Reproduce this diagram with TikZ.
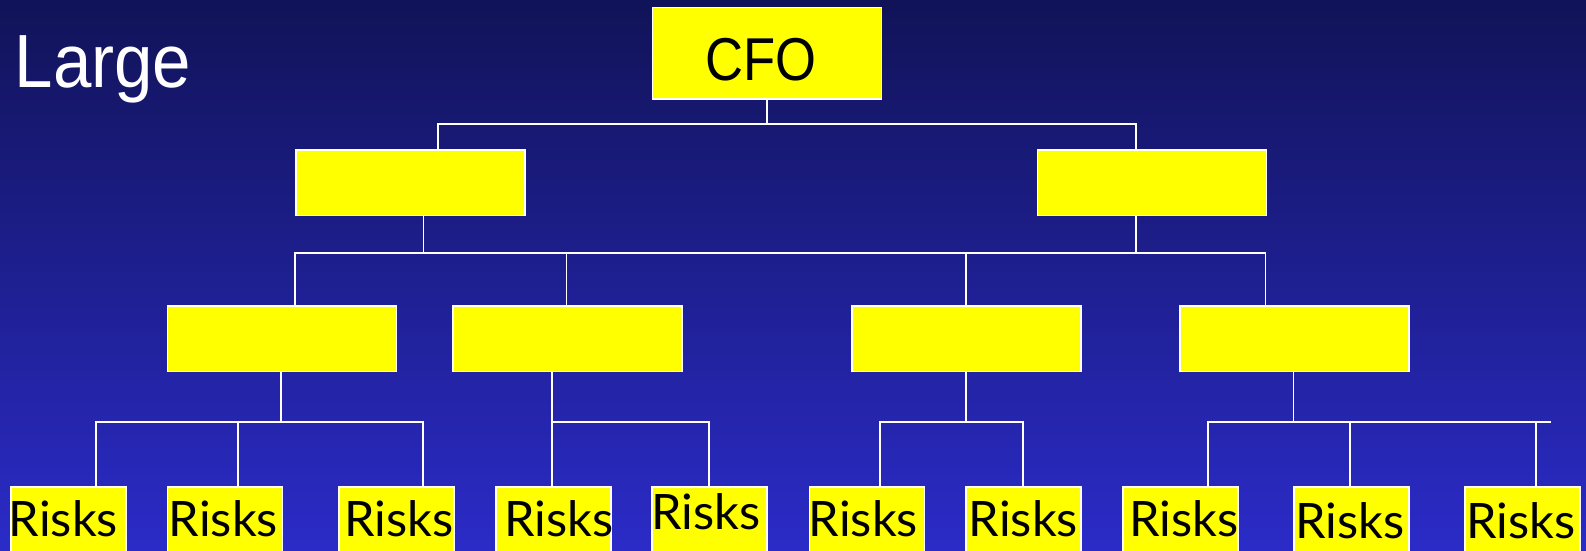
\documentclass[tikz,border=0pt]{standalone}
\usepackage{fontspec}
\usepackage{graphicx}
\usetikzlibrary{calc}
\newfontfamily\risksfont{Lato}
\newfontfamily\titlefont{Liberation Sans}
\definecolor{bgtop}{RGB}{17,19,88}
\definecolor{bgbot}{RGB}{43,43,200}
\definecolor{boxyellow}{RGB}{255,255,0}
\begin{document}
\begin{tikzpicture}[x=1pt,y=-1pt,
  ybox/.style={draw=white, line width=1.5pt, fill=boxyellow, anchor=north west, inner sep=0pt},
  mid/.style={ybox, minimum width=229pt, minimum height=65.5pt},
  rbox/.style={ybox, minimum width=115pt, minimum height=90pt},
  conn/.style={draw=white, line width=1.8pt},
  rtext/.style={anchor=base west, inner sep=0pt, font=\risksfont\fontsize{48.8}{58}\selectfont, text=black}]
\useasboundingbox (0,0) rectangle (1586,550);
\clip (0,0) rectangle (1586,550);
\shade[top color=bgtop, bottom color=bgbot] (0,0) rectangle (1586,550);

% title
\node[anchor=base west, inner sep=0pt, text=white, font=\titlefont\fontsize{75.4}{90}\selectfont] (title) at (14.4,87.3) {\scalebox{0.916}[1]{Large}};

% level 0
\node[ybox, minimum width=229pt, minimum height=91.6pt] (cfo) at (651.5,6.7) {};
\node[anchor=base west, inner sep=0pt, text=black, font=\titlefont\fontsize{60.5}{72}\selectfont] (cfot) at (705,80) {\scalebox{0.87}[1]{CFO}};

% level 1
\node[mid] (a1) at (295,149.3) {};
\node[mid] (a2) at (1036.6,149.3) {};

% level 2
\node[mid] (b1) at (166.7,305) {};
\node[mid] (b2) at (452,305) {};
\node[mid] (b3) at (851,305) {};
\node[mid] (b4) at (1179.3,305) {};

% level 3
\node[rbox] (r1) at (10,486) {};
\node[rbox] (r2) at (166.7,486) {};
\node[rbox] (r3) at (338,486) {};
\node[rbox] (r4) at (495,486) {};
\node[rbox] (r5) at (651,486) {};
\node[rbox] (r6) at (808.7,486) {};
\node[rbox] (r7) at (965,486) {};
\node[rbox] (r8) at (1122,486) {};
\node[rbox] (r9) at (1293.3,486) {};
\node[rbox] (r10) at (1464.3,486) {};

\node[rtext] (t1) at ($(r1.north west)+(-1.3,50.7)$) {Risks};
\node[rtext] (t2) at ($(r2.north west)+(2,50.7)$) {Risks};
\node[rtext] (t3) at ($(r3.north west)+(6,50.7)$) {Risks};
\node[rtext] (t4) at ($(r4.north west)+(9,50.7)$) {Risks};
\node[rtext] (t5) at ($(r5.north west)+(0,43.3)$) {Risks};
\node[rtext] (t6) at ($(r6.north west)+(0,50.7)$) {Risks};
\node[rtext] (t7) at ($(r7.north west)+(3.7,50.7)$) {Risks};
\node[rtext] (t8) at ($(r8.north west)+(7,50.7)$) {Risks};
\node[rtext] (t9) at ($(r9.north west)+(1.7,52)$) {Risks};
\node[rtext] (t10) at ($(r10.north west)+(1.7,52)$) {Risks};

% junction coordinates
\coordinate (j0) at (766,124);
\coordinate (j1a) at (423.5,253.3);
\coordinate (j1b) at (1136.3,253.3);
\coordinate (k1) at (281,421.7);
\coordinate (k2) at (552,421.7);
\coordinate (k3) at (965.7,421.7);
\coordinate (k4) at (1293.5,421.7);

% connectors level 0 -> 1
\draw[conn] (cfo.south) -- (cfo.south |- j0);
\draw[conn] (a1.north -| 438,0) |- (j0) -| (a2.north -| 1136.3,0);

% level 1 -> 2
\draw[conn] (a1.south -| j1a) -- (j1a);
\draw[conn] (a2.south -| j1b) -- (j1b);
\draw[conn] (b1.north -| 294.7,0) |- (j1b) -| (b4.north -| 1265.5,0);
\draw[conn] (b2.north -| 566.4,0) -- (j1b -| 566.4,0);
\draw[conn] (b3.north -| 965.7,0) -- (j1b -| 965.7,0);

% level 2 -> 3
\draw[conn] (b1.south -| k1) -- (k1);
\draw[conn] (r1.north -| 96,0) |- (k1 -| 423.3,0) -- (r3.north -| 423.3,0);
\draw[conn] (r2.north -| 238,0) -- (k1 -| 238,0);

\draw[conn] (b2.south -| k2) -- (r4.north -| k2);
\draw[conn] (k2) -| (r5.north -| 709,0);

\draw[conn] (b3.south -| k3) -- (k3);
\draw[conn] (r6.north -| 880,0) |- (k3 -| 1022.7,0) -- (r7.north -| 1022.7,0);

\draw[conn] (b4.south -| k4) -- (k4);
\draw[conn] (r8.north -| 1207.7,0) |- (k4 -| 1550.7,0);
\draw[conn] (r9.north -| 1350,0) -- (k4 -| 1350,0);
\draw[conn] (r10.north -| 1536,0) -- (k4 -| 1536,0);
\end{tikzpicture}
\end{document}
